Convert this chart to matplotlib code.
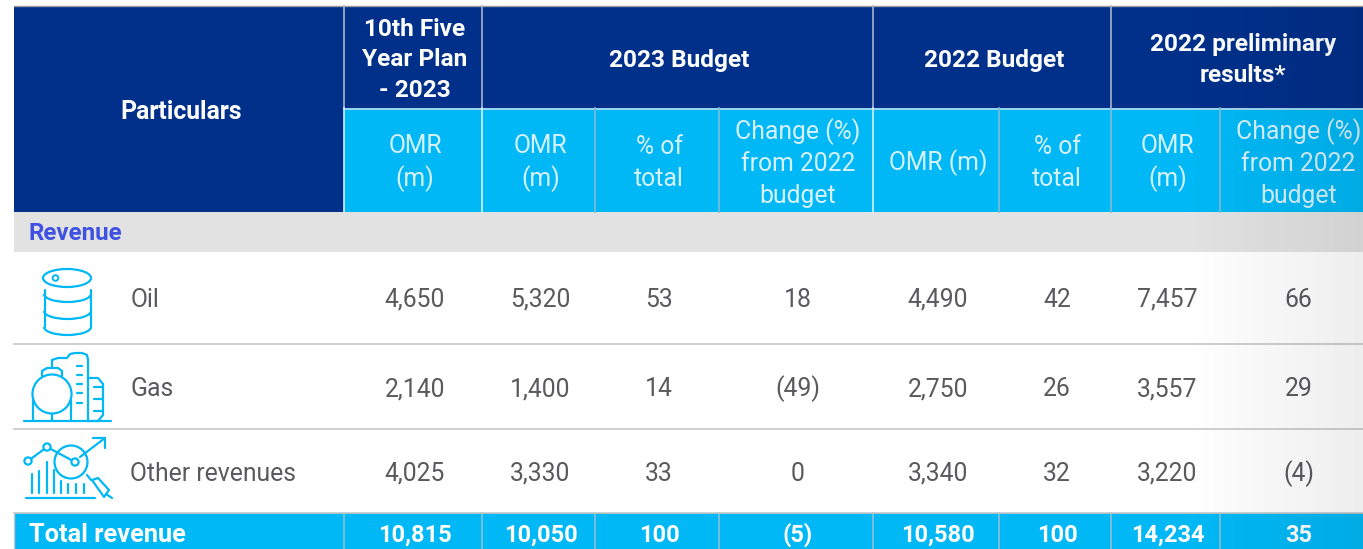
#!/usr/bin/env python
# -*- coding: utf-8 -*-
import numpy as np
import matplotlib
matplotlib.use("Agg")
import matplotlib.pyplot as plt
from matplotlib.patches import Rectangle, Circle, Ellipse, Arc

DARK = "#00308a"
CYAN = "#00b8f5"
BAND = "#e2e2e3"
GRID = "#c8c8c8"
GREY = "#5a5a5e"

top_headers = ["10th Five\nYear Plan\n- 2023", "2023 Budget", "2022 Budget",
               "2022 preliminary\nresults*"]
sub_headers = ["OMR\n(m)", "OMR\n(m)", "% of\ntotal", "Change (%)\nfrom 2022\nbudget",
               "OMR (m)", "% of\ntotal", "OMR\n(m)", "Change (%)\nfrom 2022\nbudget"]
row_names = ["Oil", "Gas", "Other revenues"]
oil = ["4,650", "5,320", "53", "18", "4,490", "42", "7,457", "66"]
gas = ["2,140", "1,400", "14", "(49)", "2,750", "26", "3,557", "29"]
other = ["4,025", "3,330", "33", "0", "3,340", "32", "3,220", "(4)"]
total = ["10,815", "10,050", "100", "(5)", "10,580", "100", "14,234", "35"]

col_edges = [344, 482, 595, 719, 873, 999, 1111, 1220, 1363]
top_spans = [(344, 482), (482, 873), (873, 1111), (1111, 1363)]

plt.rcParams["font.family"] = ["Roboto", "DejaVu Sans"]
fig = plt.figure(figsize=(13.63, 5.49), dpi=100)
ax = fig.add_axes([0, 0, 1, 1])
ax.set_xlim(0, 1363)
ax.set_ylim(549, 0)
ax.axis("off")


def rect(x0, y0, x1, y1, color, z=1):
    ax.add_patch(Rectangle((x0, y0), x1 - x0, y1 - y0, fc=color, ec="none", zorder=z))


def line(xs, ys, color=CYAN, lw=1.6, z=4):
    ax.plot(xs, ys, color=color, lw=lw, zorder=z, solid_capstyle="round")


rect(14, 6, 1363, 108, DARK)
rect(14, 108, 344, 212, DARK)
rect(344, 108, 1363, 212, CYAN)
rect(14, 212, 1363, 252, BAND)
rect(14, 513, 1363, 549, CYAN)

# header lines
ax.plot([14, 1363], [5.5, 5.5], color="#9a9aa0", lw=1, zorder=3)
ax.plot([344, 1363], [108.5, 108.5], color="#b9dcef", lw=1.2, zorder=3)
for x in [344, 482, 873, 1111]:
    ax.plot([x, x], [6, 108], color="#a9b4cc", lw=1.2, zorder=3)
for x, c in zip(col_edges[:-1], ["#d5f0fb", "#d5f0fb", "#7fbcd6", "#7fbcd6",
                                 "#d5f0fb", "#7fbcd6", "#7fbcd6", "#7fbcd6"]):
    ax.plot([x, x], [108, 212], color=c, lw=1.2, zorder=3)
for x in col_edges[:-1]:
    ax.plot([x, x], [513, 549], color="#8cc0d6", lw=1.2, zorder=3)
ax.plot([14, 14], [513, 549], color=GRID, lw=1, zorder=3)
for y in [344, 429, 513]:
    ax.plot([14, 1363], [y, y], color=GRID, lw=1.2, zorder=3)

# text
bold = dict(color="white", fontweight="bold", ha="center", va="center", zorder=5)
ax.text(181, 112, "Particulars", fontsize=17.8, **bold)
for (x0, x1), label, dx in zip(top_spans, top_headers, [2, 2, 2, 6]):
    ax.text((x0 + x1) / 2 + dx, 60, label, fontsize=17.6, linespacing=1.42, **bold)

centers = [(a + b) / 2 + 2 for a, b in zip(col_edges[:-1], col_edges[1:])]
centers[-1] += 5
for xc, label in zip(centers, sub_headers):
    ax.text(xc, 163, label, color="#d6f1fc", fontsize=17.8, fontweight="normal",
            ha="center", va="center", linespacing=1.38, zorder=5)

ax.text(29, 234, "Revenue", color="#3f51e0", fontsize=17.4, fontweight="bold",
        ha="left", va="center", zorder=5)

for y, name, values in zip([300, 389, 474], row_names, [oil, gas, other]):
    ax.text(130.5, y, name, color=GREY, fontsize=17.8, fontweight="normal",
            ha="left", va="center", zorder=5)
    for xc, v in zip(centers, values):
        ax.text(xc, y, v, color=GREY, fontsize=17.8, fontweight="normal",
                ha="center", va="center", zorder=5)

ax.text(29, 535, "Total revenue", fontsize=18.3, color="white", fontweight="bold",
        ha="left", va="center", zorder=5)
for xc, v in zip(centers, total):
    ax.text(xc, 535, v, fontsize=17, **bold)

# barrel icon
ax.add_patch(Ellipse((67, 278), 48, 18, fc="none", ec=CYAN, lw=1.6, zorder=4))
ax.add_patch(Circle((55.5, 278), 2.8, fc="none", ec=CYAN, lw=1.4, zorder=4))
line([44.5, 44.5], [290, 327])
line([90.5, 90.5], [290, 327])
for yc in [294, 311, 327]:
    ax.add_patch(Arc((67.5, yc), 47, 16, theta1=0, theta2=180, ec=CYAN, lw=1.6, zorder=4))

# gas plant icon
line([24, 111], [421, 421])
ax.add_patch(Circle((52, 394), 19.5, fc="none", ec=CYAN, lw=1.6, zorder=4))
line([33, 33], [400, 421])
line([71, 71], [400, 421])
line([52, 52], [414, 421])
line([42, 42, 47, 58, 62, 62], [376, 371, 368, 368, 371, 376])
line([52, 52, 58, 66], [368, 360, 358, 358])
line([67, 70, 75, 82, 87, 88, 88], [358, 354, 353, 353, 355, 360, 421])
for yc in [366, 375, 384, 393, 403]:
    line([77, 82], [yc, yc])
line([88, 98, 103, 103, 98, 88], [378, 378, 384, 415, 421, 421])
for yc in [387, 399, 411]:
    line([94, 103], [yc, yc])

# analytics icon
px = [28, 47, 75]
py = [461, 447, 462]
line(px, py)
for x, y in zip(px, py):
    ax.add_patch(Circle((x, y), 3.6, fc="white", ec=CYAN, lw=1.6, zorder=5))
ax.add_patch(Circle((71, 462), 16.5, fc="none", ec=CYAN, lw=1.6, zorder=4))
line([80, 105], [457, 438])
line([93, 105, 105], [438, 438, 448])
line([26, 95], [498, 498])
for x, top in zip([32, 39, 47, 54, 61, 68, 76, 84], [474, 471, 462, 470, 481, 484, 484, 484]):
    line([x, x], [top, 493])
line([87, 91], [475, 480])
line([92, 98, 109, 104, 92], [480, 478, 490, 497, 480])
line([106, 112], [494, 498])

# shadow on the right edge of the scan
shade = np.zeros((1, 180, 4))
shade[0, :, 3] = np.linspace(0, 0.07, 180)
ax.imshow(shade, extent=(1183, 1363, 549, 6), aspect="auto", zorder=6)
ax.set_xlim(0, 1363)
ax.set_ylim(549, 0)

fig.savefig("out.png", dpi=100)
